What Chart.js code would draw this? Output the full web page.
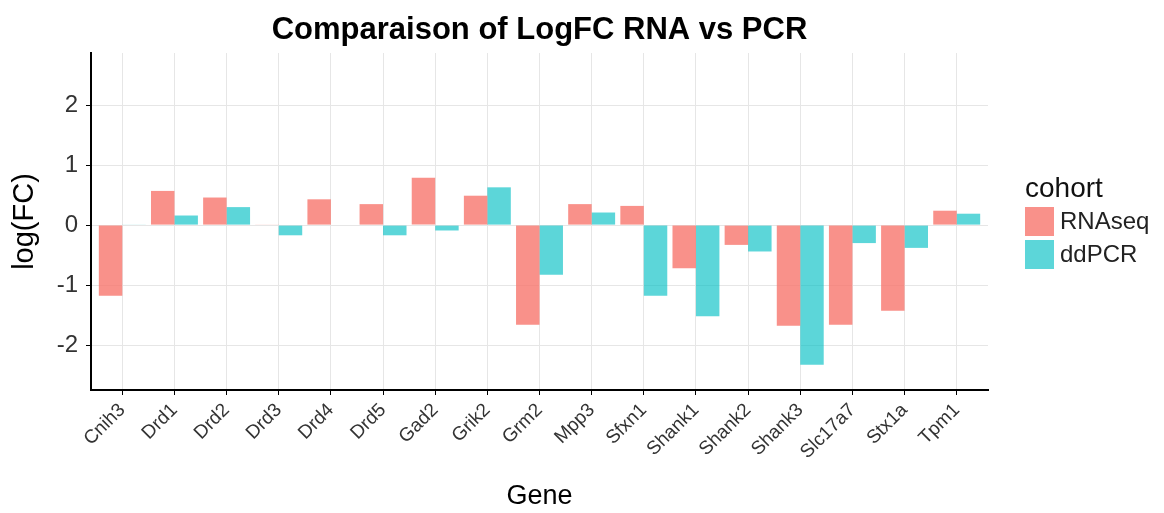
<!DOCTYPE html>
<html>
<head>
<meta charset="utf-8">
<script src="https://cdn.jsdelivr.net/npm/chart.js@4.4.1/dist/chart.umd.min.js"></script>
<style>
  html, body { margin: 0; padding: 0; background: #fff; }
  #wrap { width: 1164px; height: 513px; }
</style>
</head>
<body>
<div id="wrap"><canvas id="c" width="1164" height="513"></canvas></div>
<script>
// Genes on the x axis
const genes = ['Cnih3','Drd1','Drd2','Drd3','Drd4','Drd5','Gad2','Grik2','Grm2','Mpp3',
               'Sfxn1','Shank1','Shank2','Shank3','Slc17a7','Stx1a','Tpm1'];
// log fold change per gene, one list per cohort
const rnaseq = [-1.18, 0.57, 0.46, 0.01, 0.43, 0.35, 0.79, 0.49, -1.66, 0.35,
                0.32, -0.72, -0.33, -1.68, -1.66, -1.43, 0.24];
const ddpcr  = [0.01, 0.16, 0.30, -0.17, 0, -0.17, -0.09, 0.63, -0.83, 0.21,
                -1.18, -1.52, -0.44, -2.33, -0.30, -0.38, 0.19];
const cohorts = ['RNAseq', 'ddPCR'];
const yTicks = [-2, -1, 0, 1, 2];

const FONT = "'Liberation Sans', Arial, Helvetica, sans-serif";
const colors = ['rgba(248,118,109,0.8)', 'rgba(0,191,196,0.64)'];

const toPoints = vals => vals.map((v, i) => ({ x: i, y: v }));

// Legend block at the right: "cohort" title plus one square key per series
const cohortLegend = {
  id: 'cohortLegend',
  afterDraw(chart) {
    const ctx = chart.ctx;
    ctx.save();
    const x0 = 1025;
    ctx.fillStyle = '#111';
    ctx.font = '28px ' + FONT;
    ctx.textBaseline = 'alphabetic';
    ctx.textAlign = 'left';
    ctx.fillText('cohort', x0, 197);
    chart.data.datasets.forEach((ds, i) => {
      const y = 207 + i * 33;
      ctx.fillStyle = ds.backgroundColor;
      ctx.fillRect(x0, y, 29, 29);
      ctx.fillStyle = '#222';
      ctx.font = '24px ' + FONT;
      ctx.textBaseline = 'middle';
      ctx.fillText(ds.label, x0 + 35, y + 15);
    });
    ctx.restore();
  }
};

new Chart(document.getElementById('c'), {
  type: 'bar',
  data: {
    datasets: [
      { label: cohorts[0], data: toPoints(rnaseq), backgroundColor: colors[0] },
      { label: cohorts[1], data: toPoints(ddpcr), backgroundColor: colors[1] }
    ]
  },
  options: {
    responsive: false,
    animation: false,
    events: [],
    categoryPercentage: 0.9,
    barPercentage: 1.0,
    layout: { padding: { left: 0, right: 176, top: 0, bottom: 0 } },
    plugins: {
      legend: { display: false },
      tooltip: { enabled: false },
      title: {
        display: true,
        fullSize: false,
        text: 'Comparaison of LogFC RNA vs PCR',
        color: '#000',
        font: { family: FONT, size: 31, weight: 'bold', lineHeight: 1.2 },
        padding: { top: 11.9, bottom: 3.9 }
      }
    },
    scales: {
      x: {
        type: 'linear',
        min: -0.6,
        max: 16.6,
        offset: false,
        afterBuildTicks(scale) { scale.ticks = genes.map((g, i) => ({ value: i })); },
        afterFit(scale) { scale.height = 123; },
        ticks: {
          autoSkip: false,
          minRotation: 45,
          maxRotation: 45,
          padding: 4,
          color: '#333',
          font: { family: FONT, size: 19 },
          callback: v => genes[v]
        },
        grid: { offset: false, color: '#e6e6e6', lineWidth: 1, tickColor: '#000', tickLength: 5 },
        border: { color: '#000', width: 2 },
        title: {
          display: true,
          text: 'Gene',
          color: '#000',
          font: { family: FONT, size: 27, lineHeight: 1.2 },
          padding: { top: 4, bottom: 0 }
        }
      },
      y: {
        min: -2.75,
        max: 2.87,
        afterBuildTicks(scale) { scale.ticks = yTicks.map(v => ({ value: v })); },
        afterFit(scale) { scale.width = 91; },
        ticks: {
          padding: 8,
          color: '#333',
          font: { family: FONT, size: 24 }
        },
        grid: { color: '#e6e6e6', lineWidth: 1, tickColor: '#000', tickLength: 5 },
        border: { color: '#000', width: 2 },
        title: {
          display: true,
          text: 'log(FC)',
          color: '#000',
          font: { family: FONT, size: 29, lineHeight: 1.2 },
          padding: { top: 7.6, bottom: 0 }
        }
      }
    }
  },
  plugins: [cohortLegend]
});
</script>
</body>
</html>
